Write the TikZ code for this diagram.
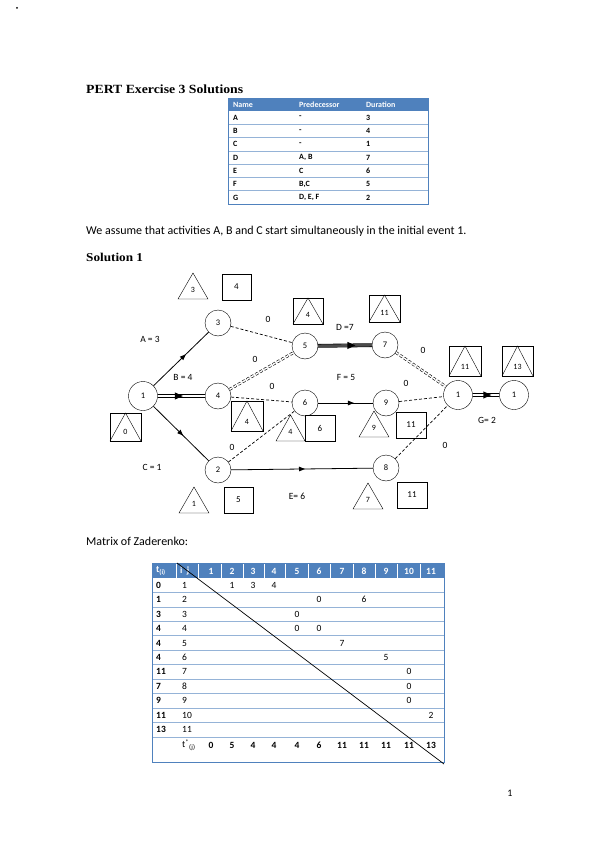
\documentclass[tikz,border=0pt]{standalone}
\usepackage{fontspec}
\setmainfont{Carlito}
\newfontfamily\titlefont[FakeStretch=1.1]{Liberation Serif}
\usetikzlibrary{decorations.markings,arrows.meta}
\definecolor{hdr}{HTML}{4F81BD}
\definecolor{rowline}{HTML}{95B3D7}
\newcommand\tribox[5]{%
  \draw[thin] (#1,#2) rectangle (#3,#4);
  \draw[thin] (#1,#4) -- ({(#1+#3)/2},#2) -- (#3,#4);
  \node[nlbl] at ({(#1+#3)/2},{#4-9}) {#5};}
\newcommand\tribare[5]{%
  \draw[thin] (#1,#4) -- ({(#1+#3)/2},#2) -- (#3,#4) -- cycle;
  \node[nlbl] at ({(#1+#3)/2},{#4-9}) {#5};}
\newcommand\boxnum[5]{%
  \draw[thin] (#1,#2) rectangle (#3,#4);
  \node[nlbl,font=\fontsize{9}{10}\selectfont] at ({(#1+#3)/2},{(#2+#4)/2}) {#5};}
\begin{document}
\begin{tikzpicture}[x=1pt,y=-1pt,
  ev/.style={circle,draw,minimum size=26pt,inner sep=0pt,fill=white,font=\fontsize{8.5}{9}\selectfont},
  nlbl/.style={inner sep=0pt,font=\fontsize{8}{9}\selectfont},
  albl/.style={inner sep=0pt,font=\fontsize{9.5}{10}\selectfont},
  tbl/.style={inner sep=0pt,anchor=west,font=\bfseries\fontsize{8}{9}\selectfont},
  thd/.style={tbl,text=white},
  mx/.style={inner sep=0pt,font=\fontsize{9.5}{10}\selectfont},
  mxb/.style={mx,font=\bfseries\fontsize{9.5}{10}\selectfont},
  mxh/.style={mxb,text=white},
  body/.style={inner sep=0pt,anchor=west,font=\fontsize{12}{14}\selectfont},
  midarrow/.style={postaction={decorate},decoration={markings,
     mark=at position #1 with {\fill[black] (3pt,0pt) -- (-3pt,2.4pt) -- (-3pt,-2.4pt) -- cycle;}}},
  bigarrow/.style={postaction={decorate},decoration={markings,
     mark=at position #1 with {\fill[black] (4pt,0pt) -- (-4pt,3.6pt) -- (-4pt,-3.6pt) -- cycle;}}},
  act/.style={line width=0.8pt},
  dum/.style={line width=0.7pt,dash pattern=on 3pt off 2pt},
  crit/.style={double,double distance=1.4pt,line width=0.9pt},
  critd/.style={double,double distance=1.5pt,line width=0.6pt,dash pattern=on 3pt off 2pt}
]
\useasboundingbox (0,0) rectangle (599,848);
\fill (17,8) circle (1pt);

% title
\node[inner sep=0pt,anchor=west,font=\titlefont\bfseries\fontsize{12.5}{14}\selectfont] (title) at (86,89) {PERT Exercise 3 Solutions};

% first table
\fill[hdr] (228,98) rectangle (428,111);
\foreach \i in {1,...,7}{
  \draw[rowline,line width=0.8pt] (228,{111+13.3*\i}) -- (428,{111+13.3*\i});
}
\draw[hdr,line width=0.8pt] (228,98) rectangle (428,204);
\node[thd] (h1) at (233,104.5) {Name};
\node[thd] (h2) at (299,104.5) {Predecessor};
\node[thd] (h3) at (366,104.5) {Duration};
\foreach \n/\p/\d [count=\k] in {A/-/3,B/-/4,C/-/1,D/{A, B}/7,E/C/6,F/{B,C}/5,G/{D, E, F}/2}{
  \node[tbl] at (233,{111+13.3*(\k-0.5)}) {\n};
  \node[tbl] at (299,{111+13.3*(\k-0.5)}) {\p};
  \node[tbl] at (366,{111+13.3*(\k-0.5)}) {\d};
}

\node[body] (assume) at (86,231) {We assume that activities A, B and C start simultaneously in the initial event 1.};
\node[inner sep=0pt,anchor=west,font=\titlefont\bfseries\fontsize{12}{14}\selectfont] (sol) at (86,257) {Solution 1};

% network nodes
\node[ev,minimum size=29pt] (n1) at (143,396) {1};
\node[ev] (n3) at (218,323) {3};
\node[ev] (n4) at (218,396) {4};
\node[ev] (n2) at (218,470) {2};
\node[ev] (n5) at (305,346) {5};
\node[ev] (n6) at (305,403) {6};
\node[ev] (n7) at (385,345) {7};
\node[ev] (n9) at (386,403) {9};
\node[ev] (n8) at (386,468) {8};
\node[ev,minimum size=29pt] (n10) at (458,395) {1};
\node[ev,minimum size=29pt] (n11) at (514,395) {1};

% activities
\draw[act,midarrow=0.55] (n1) -- (n3);
\draw[act,midarrow=0.5] (n1) -- (n2);
\draw[crit] (n1) -- (n4);
\path[bigarrow=0.45] (n1) -- (n4);
\draw[dum] (n3) -- (n5);
\draw[critd] (n4) -- (n5);
\draw[dum] (n4) -- (n6);
\draw[dum] (n2) -- (n6);
\draw[double=gray!60!black,double distance=2.6pt,line width=0.6pt] (n5) -- (n7);
\path[bigarrow=0.62] (n5) -- (n7);
\draw[act,midarrow=0.6] (n6) -- (n9);
\draw[act,midarrow=0.5] (n2) -- (n8);
\draw[critd] (n7) -- (n10);
\draw[dum] (n9) -- (n10);
\draw[dum] (n8) -- (n10);
\draw[crit] (n10) -- (n11);
\path[bigarrow=0.55] (n10) -- (n11);

% activity labels
\node[albl] (la) at (150,339) {A = 3};
\node[albl] (lb) at (183,377) {B = 4};
\node[albl] (lc) at (152,467) {C = 1};
\node[albl] (ld) at (345,327) {D =7};
\node[albl] (lf) at (346,377) {F = 5};
\node[albl] (le) at (297,496) {E= 6};
\node[albl] (lg) at (487,420) {G= 2};
\node[albl] (z1) at (268,319) {0};
\node[albl] (z2) at (255,359) {0};
\node[albl] (z3) at (272,386) {0};
\node[albl] (z4) at (423,350) {0};
\node[albl] (z5) at (406,383) {0};
\node[albl] (z6) at (232,447) {0};
\node[albl] (z7) at (445,445) {0};

% time boxes
\tribare{178}{273}{208}{299}{3}
\boxnum{222}{274}{251}{300}{4}
\tribox{293}{298}{323}{324}{4}
\tribox{369}{295}{400}{322}{11}
\tribox{449}{346}{481}{376}{11}
\tribox{502}{346}{533}{376}{13}
\tribox{231}{401}{263}{431}{4}
\tribox{110}{413}{141}{441}{0}
\tribare{276}{415}{305}{441}{4}
\boxnum{305}{415}{335}{441}{6}
\tribare{359}{411}{389}{437}{9}
\boxnum{396}{412}{426}{438}{11}
\tribare{179}{487}{209}{513}{1}
\boxnum{224}{487}{253}{513}{5}
\tribare{353}{483}{383}{509}{7}
\boxnum{397}{482}{427}{508}{11}

\node[body] (mz) at (86,541) {Matrix of Zaderenko:};

% matrix table
\fill[hdr] (152,563) rectangle (444,578);
\foreach \k in {1,...,11}{
  \draw[rowline,line width=0.8pt] (152,{578+14.45*\k}) -- (444,{578+14.45*\k});
}
\foreach \xx in {176,198,221,243,264,285,308,330,353,375,397,420}{
  \draw[white,line width=0.4pt] (\xx,563) -- (\xx,578);
}
\draw[hdr,line width=0.8pt] (152,563) rectangle (444,762);
\node[mxh,anchor=west] at (156,571) {t\textsubscript{(i)}};
\node[mxh,anchor=west] at (180,571) {i\ \ j};
\foreach \c [count=\k] in {211,232,253,274,297,319,342,364,386,409,431}{
  \node[mxh] at (\c,571) {\k};
}
\foreach \t/\i [count=\k from 0] in {0/1,1/2,3/3,4/4,4/5,4/6,11/7,7/8,9/9,11/10,13/11}{
  \node[mxb,anchor=west] at (156,{585.2+14.45*\k}) {\t};
  \node[mx,anchor=west] at (182,{585.2+14.45*\k}) {\i};
}
% entries: row, column x, value
\foreach \r/\c/\v in {0/232/1,0/253/3,0/274/4,1/319/0,1/364/6,2/297/0,3/297/0,3/319/0,4/342/7,5/386/5,6/409/0,7/409/0,8/409/0,9/431/2}{
  \node[mx] at (\c,{585.2+14.45*\r}) {\v};
}
\node[mx,anchor=west] at (182,745) {t\textsuperscript{*}\textsubscript{(j)}};
\foreach \c/\v in {211/0,232/5,253/4,274/4,297/4,319/6,342/11,364/11,386/11,409/11,431/13}{
  \node[mxb] at (\c,745) {\v};
}
\coordinate (dg1) at (177,563);
\coordinate (dg2) at (444,764);
\draw[line width=0.7pt] (dg1) -- (dg2);

\node[inner sep=0pt,font=\fontsize{10}{12}\selectfont] (pg) at (510,793) {1};
\end{tikzpicture}
\end{document}
